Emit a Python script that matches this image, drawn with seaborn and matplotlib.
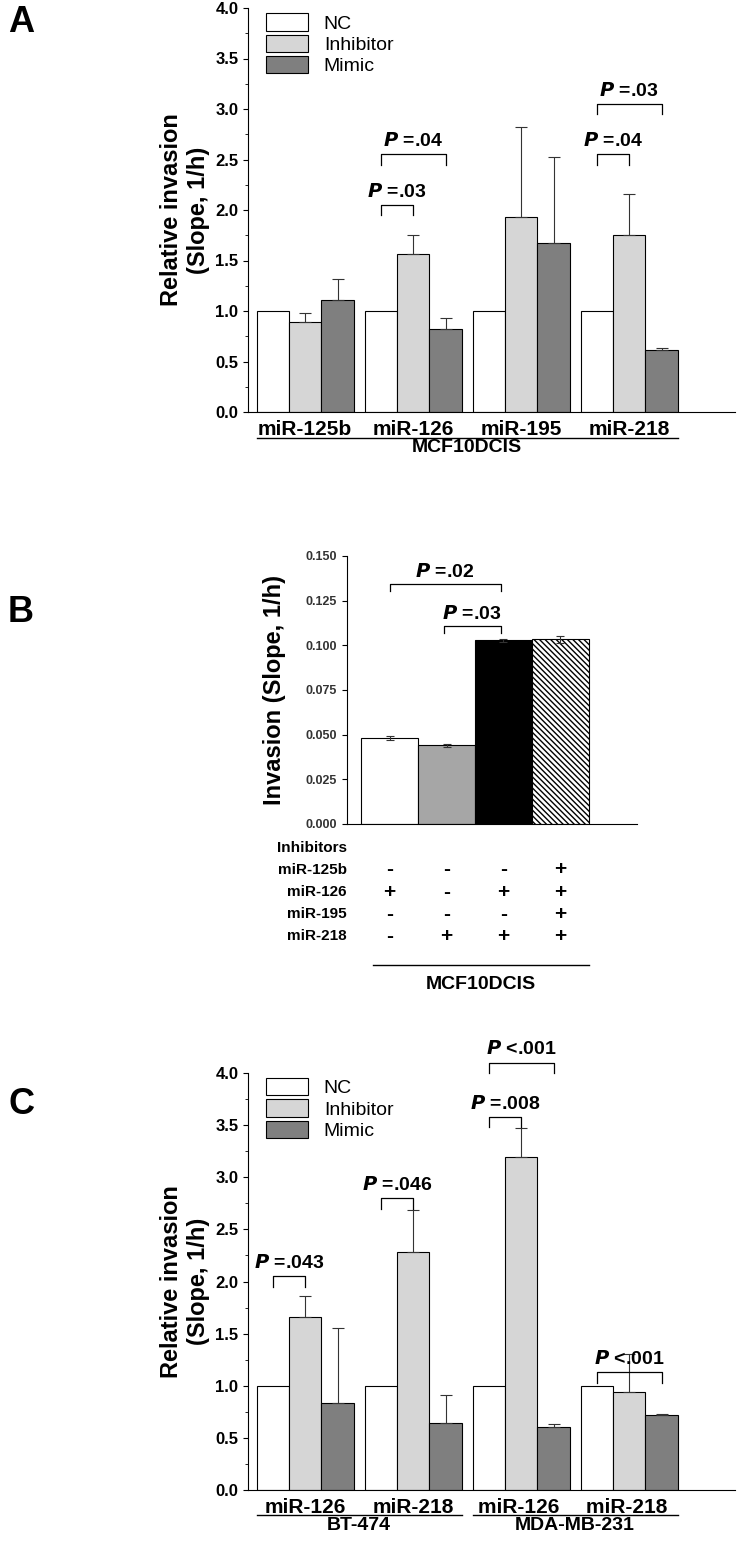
import numpy as np
import pandas as pd
import seaborn as sns
from matplotlib import pyplot as plt
from matplotlib.ticker import MultipleLocator

# panel A data
genes_a = ["miR-125b", "miR-126", "miR-195", "miR-218"]
nc_a = [1.0, 1.0, 1.0, 1.0]
inh_a = [0.89, 1.56, 1.93, 1.75]
inh_a_err = [0.09, 0.19, 0.89, 0.41]
mim_a = [1.11, 0.82, 1.67, 0.61]
mim_a_err = [0.21, 0.11, 0.85, 0.02]

# panel B data
conds_b = ["c1", "c2", "c3", "c4"]
vals_b = [0.048, 0.044, 0.1028, 0.1033]
errs_b = [0.001, 0.001, 0.001, 0.002]
signs_rows = ["miR-125b", "miR-126", "miR-195", "miR-218"]
signs_b = [["-", "-", "-", "+"], ["+", "-", "+", "+"], ["-", "-", "-", "+"], ["-", "+", "+", "+"]]

# panel C data
genes_c = ["miR-126", "miR-218", "miR-126 ", "miR-218 "]
nc_c = [1.0, 1.0, 1.0, 1.0]
inh_c = [1.66, 2.28, 3.19, 0.94]
inh_c_err = [0.20, 0.41, 0.28, 0.36]
mim_c = [0.83, 0.64, 0.60, 0.72]
mim_c_err = [0.72, 0.27, 0.03, 0.01]

groups = ["NC", "Inhibitor", "Mimic"]
colors = ["white", "#d6d6d6", "#7f7f7f"]

W, H = 743, 1565
fig = plt.figure(figsize=(W / 100, H / 100), dpi=100)
plt.rcParams["font.family"] = "Liberation Sans"


def ax_px(l, t, r, b):
    return fig.add_axes([l / W, 1 - b / H, (r - l) / W, (b - t) / H])


def grouped(ax, genes, nc, inh, inh_err, mim, mim_err):
    df = pd.DataFrame({"gene": genes * 3,
                       "group": sum([[g] * 4 for g in groups], []),
                       "val": nc + inh + mim})
    sns.barplot(data=df, x="gene", y="val", hue="group", palette=colors,
                edgecolor="black", linewidth=0.8, width=0.9, ax=ax, errorbar=None)
    x = np.arange(4)
    w = 0.3
    ax.errorbar(x, inh, yerr=[np.zeros(4), inh_err], fmt="none", ecolor="#333",
                elinewidth=0.8, capsize=4, capthick=0.8)
    ax.errorbar(x + w, mim, yerr=[np.zeros(4), mim_err], fmt="none", ecolor="#333",
                elinewidth=0.8, capsize=4, capthick=0.8)
    ax.set_ylim(0, 4)
    ax.set_xlim(-0.53, 3.98)
    ax.yaxis.set_minor_locator(MultipleLocator(0.25))
    ax.set_yticks(np.arange(0, 4.01, 0.5))
    ax.set_yticklabels([f"{v:.1f}" for v in np.arange(0, 4.01, 0.5)], fontsize=12, fontweight="bold")
    ax.tick_params(axis="x", labelsize=15, length=0, pad=6)
    for t in ax.get_xticklabels():
        t.set_fontweight("bold")
    ax.set_xlabel("")
    ax.set_ylabel("Relative invasion\n(Slope, 1/h)", fontsize=17, fontweight="bold")
    sns.despine(ax=ax)
    ax.legend(loc="upper left", bbox_to_anchor=(0.0, 1.03), frameon=False, fontsize=14,
              handlelength=2.2, handleheight=1.0, labelspacing=0.1)


def bracket(ax, x1, x2, y, label, h=0.1, fs=14):
    ax.plot([x1, x1, x2, x2], [y - h, y, y, y - h], color="black", lw=0.9, clip_on=False)
    ax.text((x1 + x2) / 2, y + h * 0.4, label, ha="center", va="bottom", fontsize=fs,
            fontweight="bold", clip_on=False)


def plabel(v):
    return r"$\bfit{P}$" + " " + v


# Panel A
axA = ax_px(248, 8, 735, 412)
grouped(axA, genes_a, nc_a, inh_a, inh_a_err, mim_a, mim_a_err)
bracket(axA, -0.3 + 1, 1.0, 2.05, plabel("=.03"))
bracket(axA, 0.7, 1.3, 2.55, plabel("=.04"))
bracket(axA, 2.7, 3.0, 2.55, plabel("=.04"))
bracket(axA, 2.7, 3.3, 3.05, plabel("=.03"))
axA.plot([-0.45, 3.45], [-0.26, -0.26], color="black", lw=1, clip_on=False)
axA.text(1.5, -0.35, "MCF10DCIS", ha="center", va="center", fontsize=14, fontweight="bold")
fig.text(8 / W, 1 - 22 / H, "A", fontsize=26, fontweight="bold", va="center")

# Panel B
axB = ax_px(347, 556, 637, 824)
sns.barplot(x=conds_b, y=vals_b, hue=conds_b, palette=["white", "#a6a6a6", "black", "white"],
            edgecolor="black", linewidth=0.8, width=1.0, ax=axB, legend=False)
axB.patches[3].set_hatch("\\\\\\\\\\\\")
axB.errorbar(np.arange(4), vals_b, yerr=errs_b, fmt="none", ecolor="#333", elinewidth=0.8,
             capsize=3, capthick=0.8)
axB.set_xlim(-0.75, 4.35)
axB.set_ylim(0, 0.15)
axB.set_yticks(np.arange(0, 0.151, 0.025))
axB.set_yticklabels([f"{v:.3f}" for v in np.arange(0, 0.151, 0.025)], fontsize=9, fontweight="bold", color="#333")
axB.set_xticks([])
axB.set_ylabel("Invasion (Slope, 1/h)", fontsize=17, fontweight="bold", labelpad=14)
sns.despine(ax=axB)
bracket(axB, 0.0, 1.95, 0.1345, plabel("=.02"), h=0.004)
bracket(axB, 0.95, 1.95, 0.111, plabel("=.03"), h=0.004)
axB.text(-0.75, -0.0134, "Inhibitors", ha="right", va="center", fontsize=11, fontweight="bold")
for r, name in enumerate(signs_rows):
    yy = -0.0257 - r * 0.0124
    axB.text(-0.75, yy, name, ha="right", va="center", fontsize=11, fontweight="bold")
    for c in range(4):
        axB.text(c, yy, signs_b[r][c], ha="center", va="center", fontsize=15, fontweight="bold")
axB.plot([-0.3, 3.5], [-0.079, -0.079], color="black", lw=1, clip_on=False)
axB.text(1.6, -0.09, "MCF10DCIS", ha="center", va="center", fontsize=14, fontweight="bold")
fig.text(8 / W, 1 - 612 / H, "B", fontsize=26, fontweight="bold", va="center")

# Panel C
axC = ax_px(248, 1073, 735, 1490)
grouped(axC, genes_c, nc_c, inh_c, inh_c_err, mim_c, mim_c_err)
bracket(axC, -0.3, 0.0, 2.05, plabel("=.043"))
bracket(axC, 0.7, 1.0, 2.8, plabel("=.046"))
bracket(axC, 1.7, 2.0, 3.58, plabel("=.008"))
bracket(axC, 1.7, 2.3, 4.1, plabel("<.001"))
bracket(axC, 2.7, 3.3, 1.13, plabel("<.001"))
axC.plot([-0.45, 1.45], [-0.24, -0.24], color="black", lw=1, clip_on=False)
axC.plot([1.55, 3.45], [-0.24, -0.24], color="black", lw=1, clip_on=False)
axC.text(0.5, -0.34, "BT-474", ha="center", va="center", fontsize=14, fontweight="bold")
axC.text(2.5, -0.34, "MDA-MB-231", ha="center", va="center", fontsize=14, fontweight="bold")
fig.text(8 / W, 1 - 1105 / H, "C", fontsize=26, fontweight="bold", va="center")

fig.savefig("out.png", dpi=100)
